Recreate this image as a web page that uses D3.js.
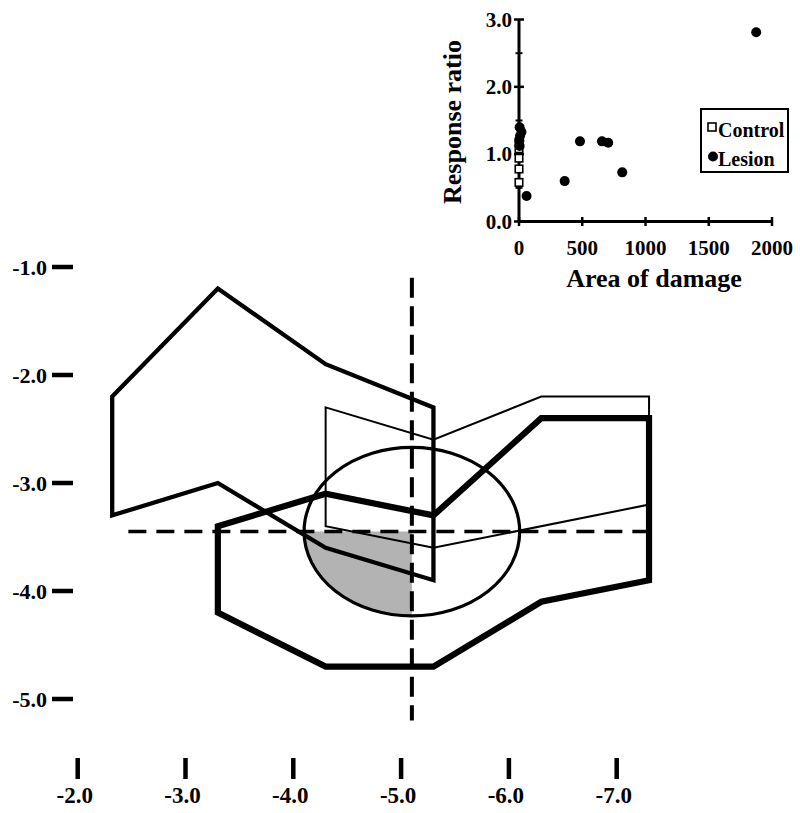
<!DOCTYPE html>
<html>
<head>
<meta charset="utf-8">
<script src="https://cdn.jsdelivr.net/npm/d3@7"></script>
<style>
  body { margin: 0; background: #fff; }
  svg text { font-family: "Liberation Serif", "Times New Roman", serif; font-weight: bold; fill: #000; }
</style>
</head>
<body>
<div id="chart"></div>
<script>
// ---- main section: axes in mm ----
const apTicks = [-2, -3, -4, -5, -6, -7];
const dvTicks = [-1, -2, -3, -4, -5];

// lesion outlines as [ap, dv] pairs
const outlineMedium = [[-2.32, -2.2], [-3.3, -1.2], [-4.3, -1.9], [-5.3, -2.3], [-5.3, -3.9], [-4.3, -3.6], [-3.3, -3.0], [-2.32, -3.3]];
const outlineThin = [[-4.3, -2.3], [-5.3, -2.6], [-6.3, -2.2], [-7.3, -2.2], [-7.3, -3.2], [-5.3, -3.6], [-4.3, -3.4]];
const outlineThick = [[-3.3, -3.4], [-4.3, -3.1], [-5.3, -3.3], [-6.3, -2.4], [-7.3, -2.4], [-7.3, -3.9], [-6.3, -4.1], [-5.3, -4.7], [-4.3, -4.7], [-3.3, -4.2]];

// target ellipse + cross hair
const target = [-5.1, -3.45];
const targetRadii = [1.0, 0.78];
const crossVertical = [-1.1, -5.2];
const crossHorizontal = [-2.47, -7.38];

// ---- inset scatter ----
const areaTicks = [0, 500, 1000, 1500, 2000];
const ratioTicks = [0, 1, 2, 3];
const ratioMinor = [0.5, 1.5, 2.5];
const controlArea = [0, 0, 0, 0, 0];
const controlRatio = [0.58, 0.78, 0.94, 1.08, 1.18];
const lesionArea = [1875, 482, 656, 705, 816, 361, 60, 5, 20, 8, 3, 5];
const lesionRatio = [2.81, 1.19, 1.19, 1.17, 0.73, 0.60, 0.38, 1.40, 1.33, 1.27, 1.20, 1.12];
const legendLabels = ['Control', 'Lesion'];

const W = 800, H = 813;
const svg = d3.select('#chart').append('svg')
  .attr('width', W).attr('height', H);

const xMain = d3.scaleLinear().domain([-2, -7]).range([77.7, 616.7]);
const yMain = d3.scaleLinear().domain([-1, -5]).range([267, 699]);

const fmt = d => d.toFixed(1);

// gray quadrant of target ellipse
const clip = svg.append('clipPath').attr('id', 'quad');
clip.append('rect')
  .attr('x', xMain(target[0] + targetRadii[0]))
  .attr('y', yMain(target[1]))
  .attr('width', xMain(target[0]) - xMain(target[0] + targetRadii[0]))
  .attr('height', yMain(target[1] - targetRadii[1]) - yMain(target[1]));

const ell = {
  cx: xMain(target[0]), cy: yMain(target[1]),
  rx: Math.abs(xMain(target[0] + targetRadii[0]) - xMain(target[0])),
  ry: Math.abs(yMain(target[1] - targetRadii[1]) - yMain(target[1]))
};

svg.append('ellipse')
  .attr('cx', ell.cx).attr('cy', ell.cy).attr('rx', ell.rx).attr('ry', ell.ry)
  .attr('fill', '#b3b3b3').attr('clip-path', 'url(#quad)');

svg.append('ellipse')
  .attr('cx', ell.cx).attr('cy', ell.cy).attr('rx', ell.rx).attr('ry', ell.ry)
  .attr('fill', 'none').attr('stroke', '#000').attr('stroke-width', 3.2);

// outlines
const line = d3.line().x(d => xMain(d[0])).y(d => yMain(d[1])).curve(d3.curveLinearClosed);
[[outlineThin, 2], [outlineMedium, 4.3], [outlineThick, 6.2]].forEach(([pts, sw]) => {
  svg.append('path')
    .attr('d', line(pts))
    .attr('fill', 'none').attr('stroke', '#000')
    .attr('stroke-width', sw).attr('stroke-linejoin', 'miter');
});

// dashed cross hair
svg.append('line')
  .attr('x1', xMain(target[0])).attr('x2', xMain(target[0]))
  .attr('y1', yMain(crossVertical[0])).attr('y2', yMain(crossVertical[1]))
  .attr('stroke', '#000').attr('stroke-width', 4).attr('stroke-dasharray', '20 8.5');
svg.append('line')
  .attr('x1', xMain(crossHorizontal[0])).attr('x2', xMain(crossHorizontal[1]))
  .attr('y1', yMain(target[1])).attr('y2', yMain(target[1]))
  .attr('stroke', '#000').attr('stroke-width', 3.5).attr('stroke-dasharray', '18 10');

// main y ticks
const gy = svg.append('g');
gy.selectAll('line').data(dvTicks).join('line')
  .attr('x1', 52).attr('x2', 73)
  .attr('y1', d => yMain(d)).attr('y2', d => yMain(d))
  .attr('stroke', '#000').attr('stroke-width', 4.5);
gy.selectAll('text').data(dvTicks).join('text')
  .attr('x', 47).attr('y', d => yMain(d))
  .attr('text-anchor', 'end').attr('dominant-baseline', 'central')
  .style('font-size', '22px')
  .text(fmt);

// main x ticks
const gx = svg.append('g');
gx.selectAll('line').data(apTicks).join('line')
  .attr('x1', d => xMain(d)).attr('x2', d => xMain(d))
  .attr('y1', 758).attr('y2', 779)
  .attr('stroke', '#000').attr('stroke-width', 4.5);
gx.selectAll('text').data(apTicks).join('text')
  .attr('x', d => xMain(d) - 3).attr('y', 803)
  .attr('text-anchor', 'middle')
  .style('font-size', '23px')
  .text(fmt);

// ---- inset ----
const xIn = d3.scaleLinear().domain([0, 2000]).range([519, 772]);
const yIn = d3.scaleLinear().domain([0, 3]).range([221.5, 19.5]);

const inset = svg.append('g');
inset.append('line')
  .attr('x1', xIn(0)).attr('x2', xIn(2000)).attr('y1', yIn(0)).attr('y2', yIn(0))
  .attr('stroke', '#000').attr('stroke-width', 3);
inset.append('line')
  .attr('x1', xIn(0)).attr('x2', xIn(0)).attr('y1', yIn(0)).attr('y2', yIn(3))
  .attr('stroke', '#000').attr('stroke-width', 3);

inset.selectAll('.xt').data(areaTicks).join('line').attr('class', 'xt')
  .attr('x1', d => xIn(d)).attr('x2', d => xIn(d))
  .attr('y1', yIn(0) - 4.5).attr('y2', yIn(0) + 4.5)
  .attr('stroke', '#000').attr('stroke-width', 2.5);
inset.selectAll('.yt').data(ratioTicks).join('line').attr('class', 'yt')
  .attr('x1', xIn(0) - 5).attr('x2', xIn(0) + 5)
  .attr('y1', d => yIn(d)).attr('y2', d => yIn(d))
  .attr('stroke', '#000').attr('stroke-width', 2.5);
inset.selectAll('.ym').data(ratioMinor).join('line').attr('class', 'ym')
  .attr('x1', xIn(0) - 3.5).attr('x2', xIn(0) + 3.5)
  .attr('y1', d => yIn(d)).attr('y2', d => yIn(d))
  .attr('stroke', '#000').attr('stroke-width', 2);

inset.selectAll('.xl').data(areaTicks).join('text').attr('class', 'xl')
  .attr('x', d => xIn(d)).attr('y', 255)
  .attr('text-anchor', 'middle').style('font-size', '21px')
  .text(d => d);
inset.selectAll('.yl').data(ratioTicks).join('text').attr('class', 'yl')
  .attr('x', 512).attr('y', d => yIn(d))
  .attr('text-anchor', 'end').attr('dominant-baseline', 'central')
  .style('font-size', '21px')
  .text(fmt);

inset.append('text')
  .attr('x', 654).attr('y', 287)
  .attr('text-anchor', 'middle').style('font-size', '26px')
  .text('Area of damage');
inset.append('text')
  .attr('transform', 'translate(461,122) rotate(-90)')
  .attr('text-anchor', 'middle').style('font-size', '26px')
  .text('Response ratio');

// control squares then lesion dots
const sq = 7.5;
inset.selectAll('.ctl').data(d3.range(controlArea.length)).join('rect').attr('class', 'ctl')
  .attr('x', i => xIn(controlArea[i]) - sq / 2).attr('y', i => yIn(controlRatio[i]) - sq / 2)
  .attr('width', sq).attr('height', sq)
  .attr('fill', '#fff').attr('stroke', '#000').attr('stroke-width', 1.6);
inset.selectAll('.les').data(d3.range(lesionArea.length)).join('circle').attr('class', 'les')
  .attr('cx', i => xIn(lesionArea[i])).attr('cy', i => yIn(lesionRatio[i]))
  .attr('r', 5).attr('fill', '#000');

// legend
const lg = inset.append('g');
lg.append('rect').attr('x', 701).attr('y', 109).attr('width', 87).attr('height', 63)
  .attr('fill', '#fff').attr('stroke', '#000').attr('stroke-width', 2);
lg.append('rect').attr('x', 708).attr('y', 123).attr('width', 8).attr('height', 8)
  .attr('fill', '#fff').attr('stroke', '#000').attr('stroke-width', 1.6);
lg.append('circle').attr('cx', 713).attr('cy', 156.5).attr('r', 5).attr('fill', '#000');
lg.selectAll('text').data(legendLabels).join('text')
  .attr('x', 718).attr('y', (d, i) => 137 + i * 29)
  .style('font-size', '20px')
  .text(d => d);
</script>
</body>
</html>
